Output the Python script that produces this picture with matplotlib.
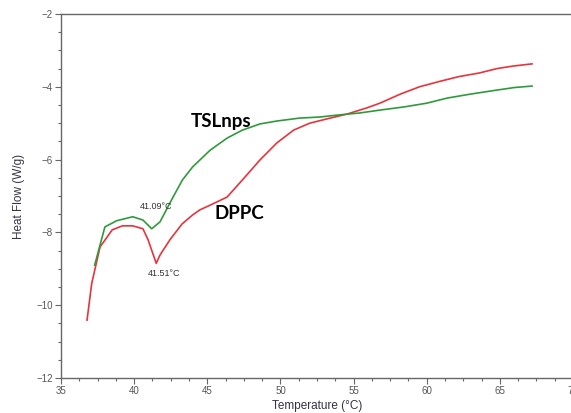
import matplotlib
matplotlib.use("Agg")
import matplotlib.pyplot as plt
from matplotlib.ticker import MultipleLocator

# DPPC (red)
dppc_t = [36.78, 37.1, 37.67, 38.5, 39.2, 39.9, 40.6, 40.95, 41.51, 41.77, 42.45,
          43.27, 44.0, 44.5, 45.2, 46.35, 47.4, 48.6, 49.76, 50.9, 52.0, 53.2,
          54.55, 55.9, 56.8, 58.2, 59.5, 60.9, 62.2, 63.6, 64.8, 65.9, 67.2]
dppc_hf = [-10.41, -9.4, -8.4, -7.93, -7.82, -7.82, -7.9, -8.2, -8.85, -8.62, -8.2,
           -7.77, -7.52, -7.38, -7.25, -7.03, -6.56, -6.01, -5.54, -5.19, -5.0, -4.88,
           -4.75, -4.58, -4.45, -4.2, -4.0, -3.85, -3.72, -3.62, -3.5, -3.43, -3.37]

# TSLnps (green)
tsl_t = [37.3, 38.0, 38.8, 39.9, 40.6, 41.2, 41.77, 42.2, 42.66, 43.3, 44.0, 45.2,
         46.35, 47.4, 48.6, 49.76, 51.3, 52.7, 54.07, 55.4, 56.8, 58.5, 60.0, 61.4,
         63.0, 64.8, 66.0, 67.2]
tsl_hf = [-8.9, -7.85, -7.68, -7.57, -7.66, -7.9, -7.71, -7.38, -7.03, -6.56, -6.2, -5.74,
          -5.41, -5.19, -5.02, -4.94, -4.86, -4.83, -4.77, -4.72, -4.64, -4.55, -4.45, -4.31,
          -4.2, -4.09, -4.02, -3.98]

x_ticks = [35, 40, 45, 50, 55, 60, 65, 70]
y_ticks = [-12, -10, -8, -6, -4, -2]

W, H = 571, 413
fig = plt.figure(figsize=(W / 100, H / 100), dpi=100)
ax = fig.add_axes([61 / W, (H - 378) / H, (573 - 61) / W, (378 - 14) / H])

ax.plot(dppc_t, dppc_hf, color="#e8333d", lw=1.2)
ax.plot(tsl_t, tsl_hf, color="#2f9a3b", lw=1.2)

ax.set_xlim(35, 70)
ax.set_ylim(-12, -2)
ax.set_xticks(x_ticks)
ax.set_yticks(y_ticks)
ax.xaxis.set_minor_locator(MultipleLocator(1.25))
ax.yaxis.set_minor_locator(MultipleLocator(0.5))

lab_font = "Liberation Sans"
for lbl in ax.get_xticklabels() + ax.get_yticklabels():
    lbl.set_fontfamily(lab_font)
ax.tick_params(which="major", direction="out", length=4, width=0.8, color="#666666",
               labelsize=7, labelcolor="#555555", pad=2)
ax.tick_params(which="minor", direction="out", length=2, width=0.8, color="#666666")
ax.tick_params(right=False, top=False)
for s in ax.spines.values():
    s.set_color("#666666")
    s.set_linewidth(1.0)

ax.set_xlabel("Temperature (°C)", fontsize=8.5, family=lab_font, color="#333344", labelpad=3)
ax.set_ylabel("Heat Flow (W/g)", fontsize=8.5, family=lab_font, color="#333344", labelpad=8)

ax.text(45.93, -4.94, "TSLnps", fontsize=13.5, fontweight="bold", family="Lato",
        ha="center", va="center", color="black")
ax.text(47.17, -7.47, "DPPC", fontsize=13.5, fontweight="bold", family="Lato",
        ha="center", va="center", color="black")
ax.text(41.5, -7.3, "41.09°C", fontsize=6.5, family=lab_font, ha="center", va="center",
        color="#333333")
ax.text(42.04, -9.12, "41.51°C", fontsize=6.5, family=lab_font, ha="center", va="center",
        color="#333333")

fig.savefig("out.png", dpi=100)
